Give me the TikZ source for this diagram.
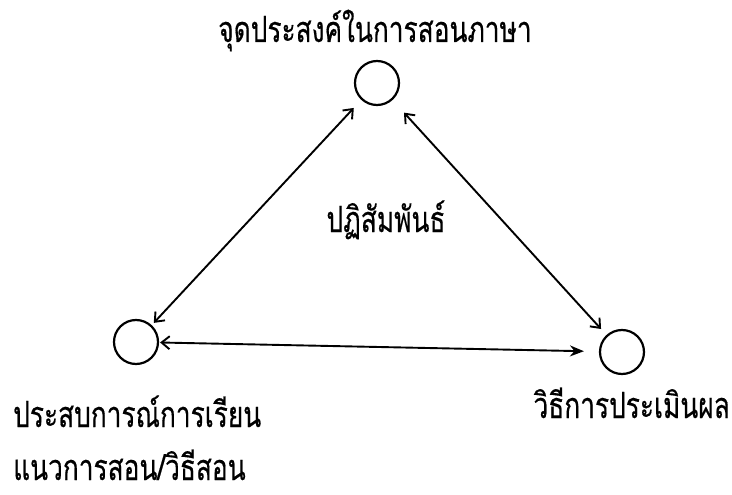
\documentclass[tikz,border=0pt]{standalone}
\usepackage{fontspec}
\newfontfamily\thaifont[Script=Thai, FakeStretch=0.73, FakeBold=0.4]{Loma}
\usetikzlibrary{arrows.meta}

\tikzset{
  vertex/.style={circle, draw, line width=2.2pt, minimum size=44pt, inner sep=0pt},
  label text/.style={font=\thaifont\fontsize{36}{40}\selectfont, inner sep=0pt},
  link/.style={line width=1.9pt, {Straight Barb[length=8pt,width=13pt]}-{Straight Barb[length=8pt,width=13pt]}},
}

\begin{document}
\begin{tikzpicture}[>=Stealth, x=1pt, y=-1pt]
\useasboundingbox[fill=white] (0,0) rectangle (732,495);

% Circulos
\node[vertex] (objetivo) at (377,83) {};
\node[vertex] (experiencia) at (136,342) {};
\node[vertex] (evaluacion) at (622,352) {};

% Textos
\node[label text, anchor=base] (objetivotxt) at (375,42) {จุดประสงค์ในการสอนภาษา};
\node[label text, anchor=base] (centro) at (386,232) {ปฏิสัมพันธ์};
\node[label text, anchor=base west] (experienciatxt) at (13,427) {ประสบการณ์การเรียน};
\node[label text, anchor=base west] (metodotxt) at (13,480) {แนวการสอน/วิธีสอน};
\node[label text, anchor=base east] (evaluaciontxt) at (730,418) {วิธีการประเมินผล};

% Flechas
\draw[link, shorten <=11pt, shorten >=3pt] (objetivo) -- (experiencia);
\draw[link, shorten <=17pt, shorten >=8pt] (objetivo) -- (evaluacion);
\draw[line width=1.9pt, {Straight Barb[length=8pt,width=13pt]}-{Stealth[length=14pt,width=11pt]},
      shorten <=1pt, shorten >=15pt] (experiencia) -- (evaluacion);

\end{tikzpicture}
\end{document}
